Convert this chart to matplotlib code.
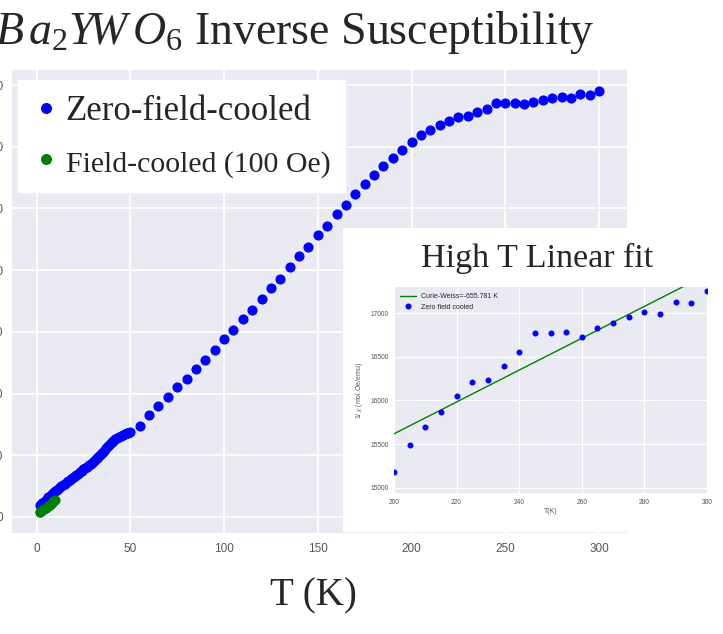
import numpy as np
import matplotlib
matplotlib.use("Agg")
import matplotlib.pyplot as plt
from matplotlib.ticker import MultipleLocator

# ---- data (1/chi in mol.Oe/emu) ----
zfc_T = [2, 3, 4, 5, 6, 7, 8, 9, 10, 11, 12, 13, 14, 15, 16, 17, 18, 19, 20,
         21, 22, 23, 24, 25, 26, 27, 28, 29, 30, 31, 32, 33, 34, 35, 36, 37, 38,
         39, 40, 41, 42, 43, 44, 45, 46, 47, 48, 49, 50,
         55, 60, 65, 70, 75, 80, 85, 90, 95, 100, 105, 110, 115, 120, 125, 130,
         135, 140, 145, 150, 155, 160, 165, 170, 175, 180, 185, 190, 195, 200,
         205, 210, 215, 220, 225, 230, 235, 240, 245, 250, 255, 260, 265, 270,
         275, 280, 285, 290, 295, 300]
zfc_inv = [500, 550, 600, 680, 800, 860, 920, 980, 1030, 1110, 1180, 1240, 1290,
           1350, 1400, 1460, 1510, 1570, 1630, 1690, 1750, 1810, 1870, 1930, 1990,
           2040, 2100, 2160, 2230, 2300, 2370, 2440, 2520, 2600, 2690, 2780, 2870,
           2950, 3020, 3080, 3140, 3190, 3240, 3290, 3330, 3370, 3400, 3420, 3440,
           3690, 4146, 4510, 4875, 5255, 5600, 5997, 6374, 6755, 7200, 7577, 8023,
           8388, 8833, 9267, 9644, 10142, 10576, 10953, 11414, 11791, 12277, 12660,
           13100, 13481, 13858, 14236, 14547, 14871, 15183, 15487, 15697, 15868,
           16055, 16208, 16238, 16390, 16550, 16768, 16768, 16787, 16722, 16825,
           16882, 16962, 17019, 16985, 17133, 17114, 17259]

fc_T = [1.8, 2, 3, 4, 5, 6, 7, 8, 9, 10]
fc_inv = [200, 215, 265, 320, 380, 440, 500, 560, 625, 690]

# Curie-Weiss fit shown in the inset
cw_theta = -655.781
cw_slope = 18.25
fit_range = [200, 300]

# ---- style ----
plt.style.use("seaborn-v0_8-darkgrid")
plt.rcParams["font.family"] = ["Liberation Sans", "DejaVu Sans"]
plt.rcParams["mathtext.fontset"] = "custom"
plt.rcParams["mathtext.rm"] = "Liberation Serif"
plt.rcParams["mathtext.it"] = "Liberation Serif:italic"
serif = ["Liberation Serif", "DejaVu Serif"]

W, H = 723, 634
fig = plt.figure(figsize=(W / 100, H / 100), dpi=100)

def box(x0, y0, x1, y1):
    # pixel box (top-left origin) -> figure fraction rect
    return [x0 / W, 1 - y1 / H, (x1 - x0) / W, (y1 - y0) / H]

# ---- main plot ----
ax = fig.add_axes(box(12, 70, 627, 533))
ax.set_facecolor("#EAEAF2")
ax.plot(zfc_T, zfc_inv, "o", color="blue", ms=6.3, label="Zero-field-cooled")
ax.plot(fc_T, fc_inv, "o", color="green", ms=6.3, label="Field-cooled (100 Oe)")
ax.yaxis.set_major_locator(MultipleLocator(2500))
ax.xaxis.set_major_locator(MultipleLocator(50))
ax.tick_params(axis="both", labelsize=8.5, labelcolor="#555555", length=0)
ax.tick_params(axis="y", pad=6.5)
ax.tick_params(axis="x", pad=7)
ax.grid(True, color="white", lw=1.3)
for s in ax.spines.values():
    s.set_visible(False)

leg = ax.legend(loc="upper left", bbox_to_anchor=(0.0098, 0.978),
                borderaxespad=0, frameon=True, fancybox=False,
                facecolor="white", edgecolor="white", framealpha=1,
                markerscale=1.1, handlelength=0.8, handletextpad=0.15,
                labelspacing=0.55, borderpad=0.42,
                prop={"family": serif, "size": 25})
leg.get_texts()[1].set_fontsize(21.5)

# ---- inset: high T linear fit ----
bg = fig.add_axes(box(343, 228, 723, 532))
bg.set_facecolor("white")
bg.set_xticks([])
bg.set_yticks([])
bg.grid(False)
for s in bg.spines.values():
    s.set_visible(False)

zfc_T_arr = np.array(zfc_T)
zfc_inv_arr = np.array(zfc_inv)
hi = zfc_T_arr >= 200
fit_x = np.array(fit_range)
fit_y = cw_slope * (fit_x - cw_theta)

axin = fig.add_axes(box(394, 287, 707, 493))
axin.set_facecolor("#EAEAF2")
axin.plot(fit_x, fit_y, "-", color="green", lw=1.0,
          label="Curie-Weiss=%.3f K" % cw_theta)
axin.plot(zfc_T_arr[hi], zfc_inv_arr[hi], "o", color="blue", ms=3.3,
          label="Zero field cooled")
axin.set_xlim(200, 300)
axin.set_ylim(14940, 17300)
axin.xaxis.set_major_locator(MultipleLocator(20))
axin.yaxis.set_major_locator(MultipleLocator(500))
axin.tick_params(axis="both", labelsize=4.8, labelcolor="#555555", length=0, pad=4)
axin.grid(True, color="white", lw=0.8)
for s in axin.spines.values():
    s.set_visible(False)
axin.set_xlabel("T(K)", fontsize=5, color="#555555", labelpad=2)
axin.set_ylabel(r"1/ $\chi$ (mol.Oe/emu)", fontsize=5, color="#555555", labelpad=4)
axin.legend(loc="upper left", frameon=False, fontsize=5, handlelength=2.2)

fig.text(537 / W, 1 - 267 / H, "High T Linear fit", family=serif, fontsize=24.5,
         ha="center", va="baseline")

# ---- title and x label ----
fig.text(595 / W, 1 - 44 / H, r"$B\,a_2Y\!W\,O_6$ Inverse Susceptibility",
         family=serif, fontsize=33, ha="right", va="baseline")
fig.text(313 / W, 1 - 605 / H, "T (K)", family=serif, fontsize=28,
         ha="center", va="baseline")

fig.savefig("out.png", dpi=100)
